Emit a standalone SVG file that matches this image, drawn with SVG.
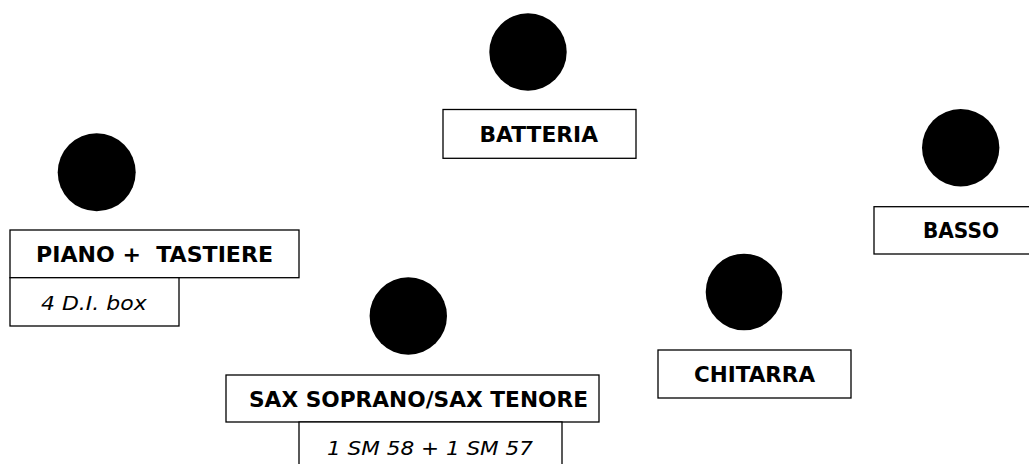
<svg xmlns="http://www.w3.org/2000/svg" width="1029" height="464" viewBox="0 0 1029 464">
<style>
.box{fill:#fff;stroke:#000;stroke-width:1.3}
.mic{fill:#000}
.lbl{font-family:"DejaVu Sans","Verdana",sans-serif;font-weight:bold;font-size:21px;fill:#000}
.sub{font-family:"DejaVu Sans","Verdana",sans-serif;font-style:italic;font-size:20px;fill:#000}
</style>
<rect width="1029" height="464" fill="#fff"/>
<g id="connectors"></g>
<g id="batteria">
<circle class="mic" cx="528" cy="52" r="38.7"/>
<rect class="box" x="443" y="109.5" width="193" height="48.8"/>
<text class="lbl" x="479.5" y="142" textLength="118.5" lengthAdjust="spacingAndGlyphs">BATTERIA</text>
</g>
<g id="piano">
<circle class="mic" cx="96.7" cy="172.3" r="39"/>
<rect class="box" x="10" y="230" width="289" height="47.7"/>
<text class="lbl" x="36" y="262.3" textLength="237" lengthAdjust="spacingAndGlyphs" xml:space="preserve">PIANO +  TASTIERE</text>
<rect class="box" x="10" y="277.7" width="169" height="48.3"/>
<text class="sub" x="41" y="310" textLength="105.7" lengthAdjust="spacingAndGlyphs">4 D.I. box</text>
</g>
<g id="basso">
<circle class="mic" cx="960.7" cy="147.7" r="38.7"/>
<rect class="box" x="874" y="206.7" width="160" height="47.3"/>
<text class="lbl" x="923" y="237.7" textLength="76" lengthAdjust="spacingAndGlyphs">BASSO</text>
</g>
<g id="chitarra">
<circle class="mic" cx="744" cy="292" r="38.3"/>
<rect class="box" x="658" y="350" width="193" height="48"/>
<text class="lbl" x="694" y="382.3" textLength="121" lengthAdjust="spacingAndGlyphs">CHITARRA</text>
</g>
<g id="sax">
<circle class="mic" cx="408.3" cy="316" r="38.7"/>
<rect class="box" x="226" y="375" width="373" height="47"/>
<text class="lbl" x="249" y="406.7" textLength="339" lengthAdjust="spacingAndGlyphs">SAX SOPRANO/SAX TENORE</text>
<rect class="box" x="299" y="422" width="263" height="50"/>
<text class="sub" x="327" y="455" textLength="206" lengthAdjust="spacingAndGlyphs">1 SM 58 + 1 SM 57</text>
</g>
</svg>
